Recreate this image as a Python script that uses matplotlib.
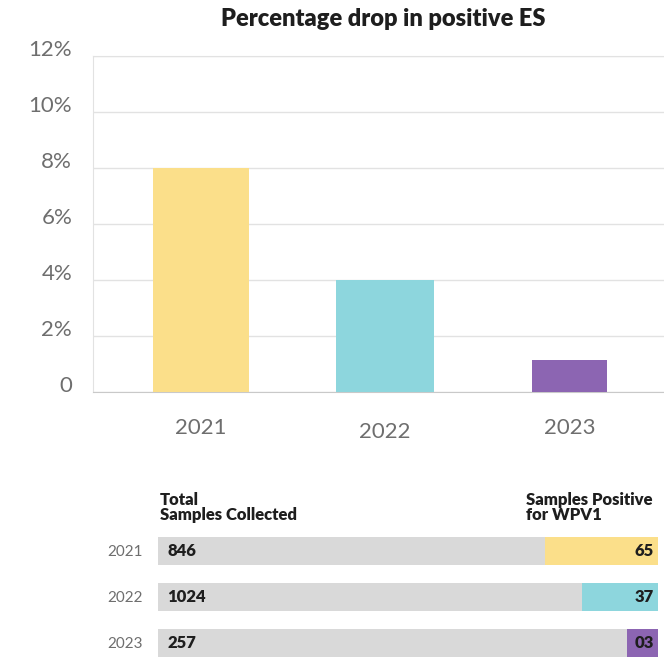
import matplotlib
matplotlib.use("Agg")
import matplotlib.pyplot as plt
import matplotlib.transforms as mtransforms

# data
years = ["2021", "2022", "2023"]
pct_positive = [8.0, 4.0, 1.15]
total_samples = ["846", "1024", "257"]
positive_samples = ["65", "37", "03"]
# share of the row bar shown in colour (as drawn in the graphic)
pos_seg_share = [0.226, 0.152, 0.062]
y_ticks = [0, 2, 4, 6, 8, 10, 12]
y_tick_labels = ["0", "2%", "4%", "6%", "8%", "10%", "12%"]

colors = ["#fbdf8a", "#8dd6dd", "#8c65b2"]
grey_bar = "#d9d9d9"
txt_grey = "#6e6e6e"
txt_dark = "#1e1e1e"

plt.rcParams["font.family"] = ["Lato", "DejaVu Sans"]

W, H = 664, 662
fig = plt.figure(figsize=(W / 100, H / 100), dpi=100)

# ---- top bar chart ----
ax = fig.add_axes([93 / W, 1 - 392 / H, (W - 93) / W, (392 - 56) / H])
x = list(range(len(years)))
ax.bar(x, pct_positive, width=[0.52, 0.535, 0.41], color=colors, zorder=3)
ax.set_xlim(-0.583, 2.512)
ax.set_ylim(0, 12)
ax.set_yticks(y_ticks)
ax.set_yticklabels(y_tick_labels, fontsize=16, color=txt_grey)
for lab in ax.get_yticklabels():
    lab.set_va("baseline")
ax.grid(axis="y", color="#e2e2e2", linewidth=1, zorder=0)
ax.set_xticks(x)
ax.set_xticklabels(years, fontsize=16, color=txt_grey)
ax.tick_params(axis="both", length=0)
ax.tick_params(axis="y", pad=15)
ax.tick_params(axis="x", pad=19)
# middle label sits a little lower in the original
xl = ax.get_xticklabels()
xl[1].set_transform(xl[1].get_transform() +
                    mtransforms.ScaledTranslation(0, -4 / 100, fig.dpi_scale_trans))
for side in ["top", "left"]:
    ax.spines[side].set_color("#e2e2e2")
ax.spines["bottom"].set_color("#c9c9c9")
ax.spines["right"].set_visible(False)

fig.text(383 / W, 1 - 19 / H, "Percentage drop in positive ES",
         ha="center", va="center", fontsize=17, fontweight="heavy", color=txt_dark)

# ---- bottom row bars ----
ax2 = fig.add_axes([158 / W, 1 - 661.4 / H, 500 / W, (661.4 - 528) / H])
rows = list(range(len(years)))
ax2.barh(rows, [1.0] * len(rows), height=0.61, color=grey_bar, left=0)
pos_left = [1.0 - s for s in pos_seg_share]
ax2.barh(rows, pos_seg_share, left=pos_left, height=0.61, color=colors)
ax2.set_xlim(0, 1)
ax2.set_ylim(2.4, -0.5)
ax2.set_yticks(rows)
ax2.set_yticklabels(years, fontsize=11, color=txt_grey)
ax2.tick_params(axis="y", length=0, pad=11)
ax2.set_xticks([])
for s in ax2.spines.values():
    s.set_visible(False)
for i in rows:
    ax2.text(0.018, i, total_samples[i], ha="left", va="center",
             fontsize=12, fontweight="heavy", color=txt_dark)
    ax2.text(0.992, i, positive_samples[i], ha="right", va="center",
             fontsize=12, fontweight="heavy", color=txt_dark)

fig.text(160 / W, 1 - 492 / H, "Total\nSamples Collected", ha="left", va="top",
         fontsize=12, fontweight="heavy", color=txt_dark, linespacing=0.9)
fig.text(526 / W, 1 - 492 / H, "Samples Positive\nfor WPV1", ha="left", va="top",
         fontsize=12, fontweight="heavy", color=txt_dark, linespacing=0.9)

fig.savefig("out.png", dpi=100)
